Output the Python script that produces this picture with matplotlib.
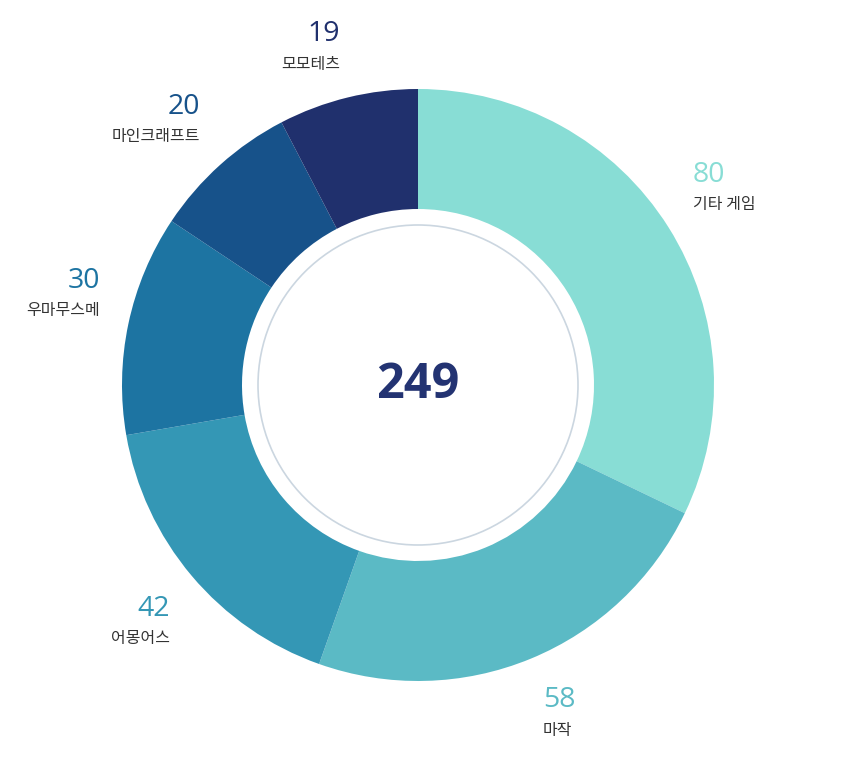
import matplotlib.pyplot as plt
from matplotlib.patches import Circle

plt.rcParams['font.family'] = ['Noto Sans CJK KR', 'DejaVu Sans']

# data
names = ["기타 게임", "마작", "어몽어스", "우마무스메", "마인크래프트", "모모테츠"]
counts = [80, 58, 42, 30, 20, 19]
colors = ["#88ddd5", "#5bbac5", "#3497b5", "#1d74a2", "#17528a", "#20306d"]

W, H = 850, 777
fig = plt.figure(figsize=(W / 100, H / 100), dpi=100)
ax = fig.add_axes([0, 0, 1, 1])

cx, cy = 418, H - 385
r_out, r_in = 296, 176
ax.pie(counts, colors=colors, startangle=90, counterclock=False,
       center=(cx, cy), radius=r_out, frame=True,
       wedgeprops=dict(width=r_out - r_in, linewidth=0))
ax.set_xlim(0, W)
ax.set_ylim(0, H)
ax.set_aspect("equal")
ax.axis("off")

ax.add_patch(Circle((cx, cy), 160, facecolor="white", edgecolor="#cbd6e0", lw=1.2))
ax.text(cx, cy, str(sum(counts)), ha="center", va="center", fontsize=35,
        fontweight="bold", color="#233372", family="Open Sans")

# label anchors in pixel coords, alignment
label_pos = [(693, 175, "left"), (543, 700, "left"), (170, 609, "right"),
             (100, 281, "right"), (200, 107, "right"), (340, 34, "right")]
for name, n, c, (x, y, ha) in zip(names, counts, colors, label_pos):
    ax.text(x, H - y, str(n), ha=ha, va="center", fontsize=20.5, color=c,
            family="Open Sans")
    ax.text(x, H - y - 30, name, ha=ha, va="center", fontsize=11.5,
            color="#333333")

fig.savefig("out.png", dpi=100)
